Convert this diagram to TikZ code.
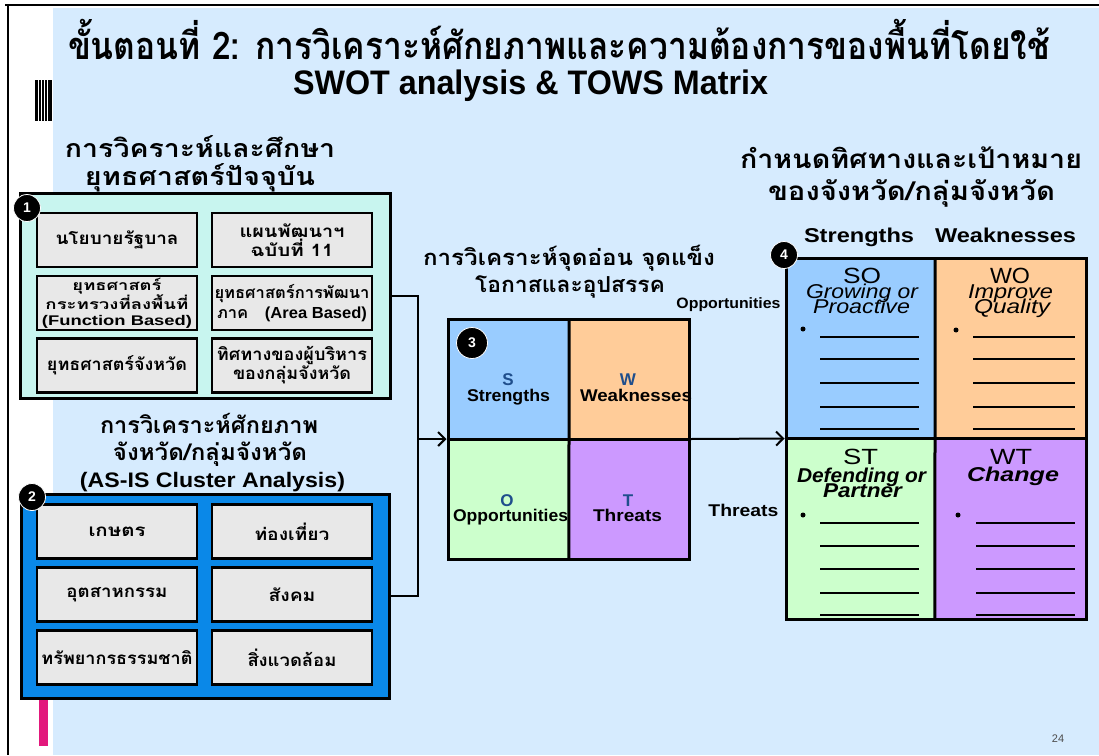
\documentclass[tikz,border=0pt]{standalone}
\usepackage{fontspec}
\setmainfont{Liberation Sans}
\newfontfamily\thai[Script=Thai]{Loma}
\usetikzlibrary{arrows.meta}
\definecolor{bgblue}{HTML}{D6EBFE}
\definecolor{cyanbox}{HTML}{C8F5EF}
\definecolor{bluebox}{HTML}{0A88E8}
\definecolor{grayin}{HTML}{E8E8E8}
\definecolor{sblue}{HTML}{99CCFF}
\definecolor{worange}{HTML}{FFCC99}
\definecolor{ogreen}{HTML}{CCFFCC}
\definecolor{tpurple}{HTML}{CC99FF}
\definecolor{letterblue}{HTML}{1F4E8C}
\definecolor{pinkbar}{HTML}{E2187C}
\newcommand\fitw[2]{\resizebox{#1pt}{\height}{#2}}
\begin{document}
\begin{tikzpicture}[x=1pt,y=-1pt,
  outerbox/.style={draw=black,line width=3pt,inner sep=0pt},
  innerbox/.style={draw=black,line width=2.5pt,fill=grayin,minimum width=160pt,minimum height=54pt,inner sep=0pt,align=center,font=\thai\bfseries\fontsize{17}{19}\selectfont},
  numc/.style={circle,fill=black,draw=white,line width=0.8pt,text=white,inner sep=0pt,minimum size=27pt,font=\bfseries\fontsize{14}{14}\selectfont},
  quad/.style={inner sep=0pt,draw=none},
  conn/.style={draw=black,line width=2pt},
  arr/.style={-{Straight Barb[length=7pt,width=14pt,line width=2pt]}},
  thhead/.style={anchor=base,font=\thai\bfseries\fontsize{25}{25}\selectfont},
  lbl/.style={anchor=base,font=\bfseries\fontsize{17}{17}\selectfont},
  ltr/.style={anchor=base,font=\bfseries\fontsize{17}{17}\selectfont,text=letterblue},
  big/.style={anchor=base,font=\fontsize{22}{22}\selectfont},
  ital/.style={anchor=base,font=\itshape\fontsize{20}{20}\selectfont},
  bital/.style={anchor=base,font=\bfseries\itshape\fontsize{20}{20}\selectfont},
  ul/.style={draw=black,line width=1.8pt}]
\useasboundingbox (0,0) rectangle (1099,755);
% background and frame
\fill[white] (0,0) rectangle (1099,755);
\fill[bgblue] (53,8) rectangle (1099,755);
\draw[line width=2pt] (5,5) -- (1099,5);
\draw[line width=2pt] (8,5) -- (8,755);
\fill[black] (35,80) rectangle (52,121);
\foreach \xx in {37.5,40.5,43.5,46.5} \fill[white] (\xx,80) rectangle ++(1,41);
\fill[pinkbar] (39,700) rectangle (48,746);

% title
\node[anchor=base,font=\thai\bfseries\fontsize{38}{38}\selectfont] (t1) at (559,59) {\fitw{982}{ขั้นตอนที่ 2: การวิเคราะห์ศักยภาพและความต้องการของพื้นที่โดยใช้}};
\node[anchor=base,font=\bfseries\fontsize{34}{34}\selectfont] (t2) at (530.5,94) {\fitw{475}{SWOT analysis \& TOWS Matrix}};

% heading 1
\node[thhead] (h1a) at (200,157) {\fitw{270}{การวิคราะห์และศึกษา}};
\node[thhead] (h1b) at (200,185) {\fitw{230}{ยุทธศาสตร์ปัจจุบัน}};

% box 1
\node[outerbox,fill=cyanbox,minimum width=370pt,minimum height=205pt] (b1) at (205,295.5) {};
\node[innerbox] (i11) at (117,240) {\fitw{123}{นโยบายรัฐบาล}};
\node[innerbox] (i12) at (292,240) {\fitw{105}{แผนพัฒนาฯ}\\\fitw{83}{ฉบับที่ 11}};
\node[innerbox,font=\thai\bfseries\fontsize{14}{15.5}\selectfont] (i21) at (117,303) {\fitw{89}{ยุทธศาสตร์}\\\fitw{143}{กระทรวงที่ลงพื้นที่}\\\fitw{150}{\bfseries\rmfamily (Function Based)}};
\node[innerbox,font=\thai\bfseries\fontsize{16}{20}\selectfont] (i22) at (292,303) {\fitw{155}{ยุทธศาสตร์การพัฒนา}\\\fitw{150}{ภาค\ \ \ {\rmfamily\bfseries (Area Based)}}};
\node[innerbox] (i31) at (117,365.5) {\fitw{140}{ยุทธศาสตร์จังหวัด}};
\node[innerbox] (i32) at (292,365.5) {\fitw{150}{ทิศทางของผู้บริหาร}\\\fitw{118}{ของกลุ่มจังหวัด}};
\node[numc] (n1) at (27,208) {1};

% heading 2
\node[thhead,font=\thai\bfseries\fontsize{23}{23}\selectfont] (h2a) at (209,433) {\fitw{218}{การวิเคราะห์ศักยภาพ}};
\node[thhead,font=\thai\bfseries\fontsize{23}{23}\selectfont] (h2b) at (210,460) {\fitw{194}{จังหวัด/กลุ่มจังหวัด}};
\node[anchor=base,font=\bfseries\fontsize{21}{21}\selectfont] (h2c) at (212.5,487) {\fitw{265}{(AS-IS Cluster Analysis)}};

% box 2
\node[outerbox,fill=bluebox,minimum width=368pt,minimum height=204pt] (b2) at (205,596) {};
\node[innerbox] (j11) at (117,531.5) {\fitw{57}{เกษตร}};
\node[innerbox] (j12) at (292,531.5) {\fitw{75}{ท่องเที่ยว}};
\node[innerbox] (j21) at (117,594.5) {\fitw{101}{อุตสาหกรรม}};
\node[innerbox] (j22) at (292,594.5) {\fitw{47}{สังคม}};
\node[innerbox] (j31) at (117,657.5) {\fitw{151}{ทรัพยากรธรรมชาติ}};
\node[innerbox] (j32) at (292,657.5) {\fitw{89}{สิ่งแวดล้อม}};
\node[numc] (n2) at (32,497) {2};

% heading 3
\node[thhead,font=\thai\bfseries\fontsize{22}{22}\selectfont] (h3a) at (569,265) {\fitw{292}{การวิเคราะห์จุดอ่อน จุดแข็ง}};
\node[thhead,font=\thai\bfseries\fontsize{22}{22}\selectfont] (h3b) at (570,292) {\fitw{190}{โอกาสและอุปสรรค}};

% SWOT box
\node[quad,fill=sblue,minimum width=120.5pt,minimum height=120pt] (qs) at (508.75,379) {};
\node[quad,fill=worange,minimum width=120pt,minimum height=120pt] (qw) at (629,379) {};
\node[quad,fill=ogreen,minimum width=120.5pt,minimum height=120pt] (qo) at (508.75,499) {};
\node[quad,fill=tpurple,minimum width=120pt,minimum height=120pt] (qt) at (629,499) {};
\node[outerbox,minimum width=241pt,minimum height=240pt] (swot) at (568.5,439) {};
\draw[line width=3pt] (qs.north east) -- (qt.south west);
\draw[line width=3pt] (swot.west) -- (swot.east);
\node[numc,minimum size=31pt] (n3) at (472,343) {3};
\node[ltr] (ls) at (508,385) {S};
\node[lbl] (ts) at (508.5,401) {\fitw{83}{Strengths}};
\node[ltr] (lw) at (628,385) {W};
\node[lbl] (tw) at (636,401) {\fitw{112}{Weaknesses}};
\node[ltr] (lo) at (507,506) {O};
\node[lbl] (to) at (510.5,521) {\fitw{115}{Opportunities}};
\node[ltr] (lt) at (628,506) {T};
\node[lbl] (tt) at (627.5,521) {\fitw{69}{Threats}};

% heading 4
\node[thhead,font=\thai\bfseries\fontsize{26}{26}\selectfont] (h4a) at (911,168) {\fitw{342}{กำหนดทิศทางและเป้าหมาย}};
\node[thhead,font=\thai\bfseries\fontsize{26}{26}\selectfont] (h4b) at (911.5,200) {\fitw{287}{ของจังหวัด/กลุ่มจังหวัด}};
\node[anchor=base,font=\bfseries\fontsize{20}{20}\selectfont] (hs) at (859,242) {\fitw{110}{Strengths}};
\node[anchor=base,font=\bfseries\fontsize{20}{20}\selectfont] (hw) at (1005.5,242) {\fitw{141}{Weaknesses}};
\node[anchor=base east,font=\bfseries\fontsize{15}{15}\selectfont] (lop) at (784,308) {\fitw{104}{Opportunities}};
\node[anchor=base east,font=\bfseries\fontsize{17}{17}\selectfont] (lth) at (782,516) {\fitw{70}{Threats}};

% TOWS matrix
\node[quad,fill=sblue,minimum width=149pt,minimum height=181pt] (qso) at (860.5,348.5) {};
\node[quad,fill=worange,minimum width=151pt,minimum height=181pt] (qwo) at (1010.5,348.5) {};
\node[quad,fill=ogreen,minimum width=149pt,minimum height=180pt] (qst) at (860.5,529) {};
\node[quad,fill=tpurple,minimum width=151pt,minimum height=180pt] (qwt) at (1010.5,529) {};
\node[outerbox,minimum width=300pt,minimum height=361pt] (mat) at (936,438.5) {};
\draw[line width=3pt] (qso.north east) -- (qwt.south west);
\draw[line width=3pt] (mat.west) -- (mat.east);
\node[numc] (n4) at (784,255) {4};

\node[big] (so) at (862,283) {\fitw{38}{SO}};
\node[ital] (so1) at (862,298) {\fitw{112}{Growing or}};
\node[ital] (so2) at (861.5,313) {\fitw{97}{Proactive}};
\node[big] (wo) at (1010,283) {\fitw{40}{WO}};
\node[ital] (wo1) at (1010.5,298) {\fitw{85}{Improve}};
\node[ital] (wo2) at (1012,313) {\fitw{76}{Quality}};
\node[big] (st) at (860.5,464) {\fitw{35}{ST}};
\node[bital] (st1) at (861.5,482) {\fitw{129}{Defending or}};
\node[bital] (st2) at (862.5,497) {\fitw{79}{Partner}};
\node[big] (wt) at (1011,464) {\fitw{42}{WT}};
\node[bital] (wt1) at (1013,481) {\fitw{92}{Change}};

\fill (803,329) circle (2.5);
\fill (956,330) circle (2.5);
\fill (803,515) circle (2.5);
\fill (958,515) circle (2.5);
\foreach \yy in {337,359,383,407,429} {
  \draw[ul] (820,\yy) -- (919,\yy);
  \draw[ul] (973,\yy) -- (1075,\yy);
}
\foreach \yy in {523,546,569,593,615} {
  \draw[ul] (820,\yy) -- (919,\yy);
  \draw[ul] (976,\yy) -- (1075,\yy);
}

% connectors
\coordinate (jn) at (418,439);
\draw[conn] (b1.east) -- (418,295.5) |- (b2.east);
\draw[conn,arr] (jn) -- (swot.west);
\draw[conn,arr] (swot.east) -- (mat.west);

\node[anchor=base,font=\fontsize{11}{11}\selectfont,text=black!70] (pg) at (1058,742) {24};
\end{tikzpicture}
\end{document}
